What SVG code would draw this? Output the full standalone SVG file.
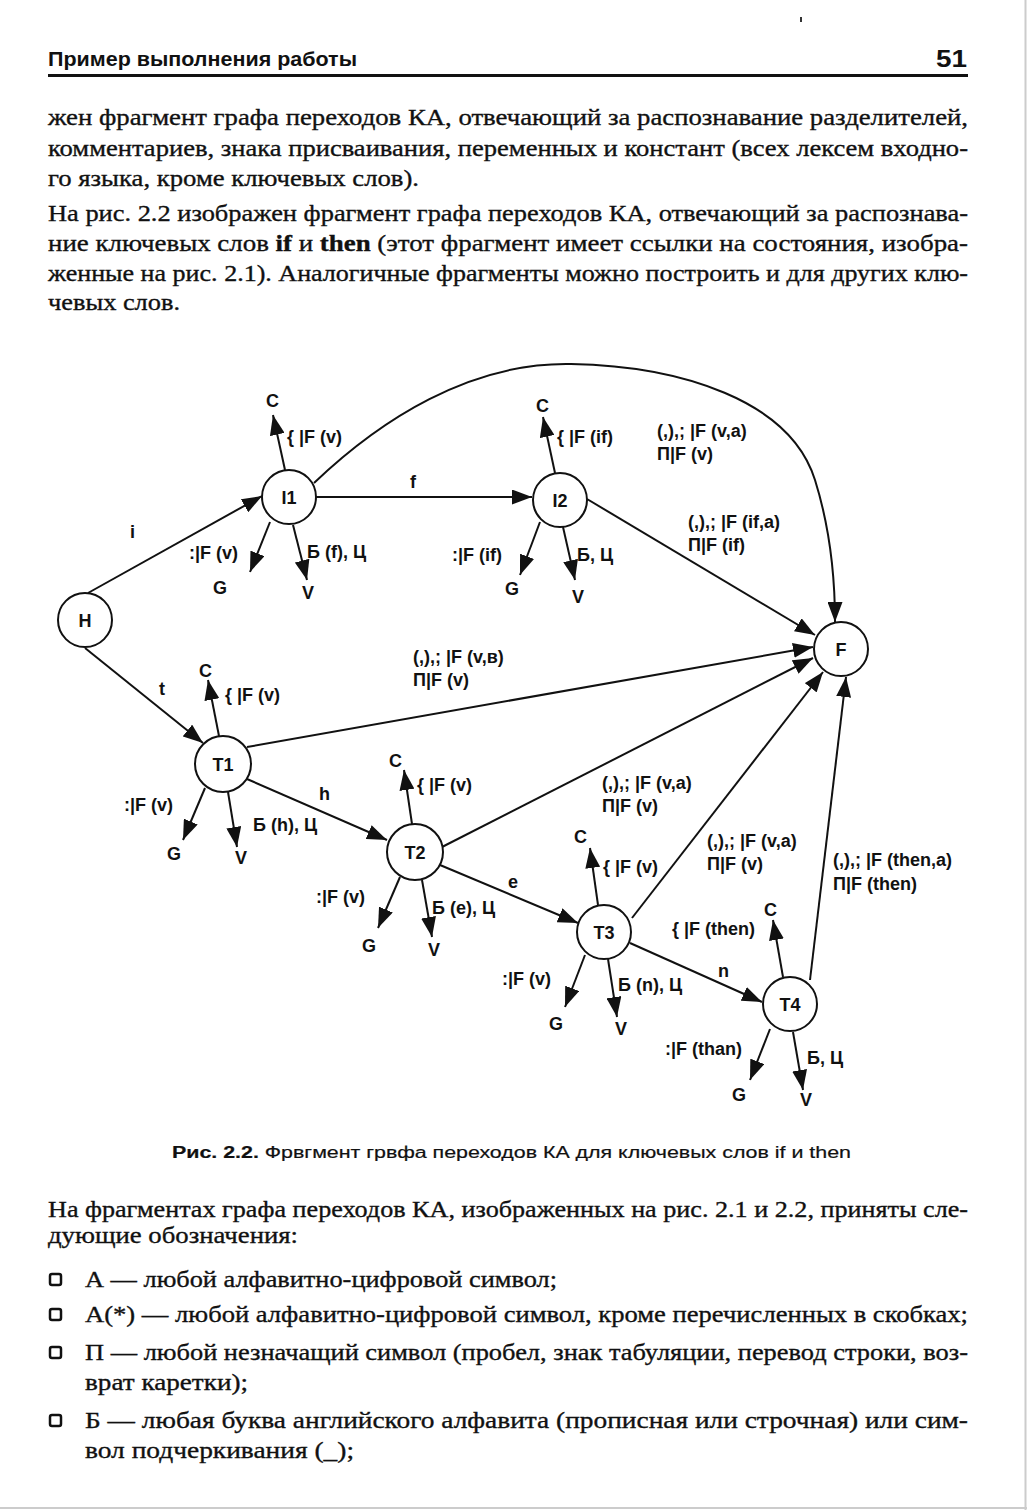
<svg xmlns="http://www.w3.org/2000/svg" width="1027" height="1510" viewBox="0 0 1027 1510">
<style>
.bg{fill:#fff}
.hd{font-family:"Liberation Sans",Arial,sans-serif;font-size:20px;font-weight:bold;fill:#111}
.pg{font-family:"Liberation Sans",Arial,sans-serif;font-size:24px;font-weight:bold;fill:#111}
.t{font-family:"Liberation Serif","Times New Roman",serif;font-size:24px;fill:#111;stroke:#111;stroke-width:0.35}
.b{font-weight:bold}
.cap{font-family:"Liberation Sans",Arial,sans-serif;font-size:16px;fill:#111;stroke:#111;stroke-width:0.2}
.l{font-family:"Liberation Sans",Arial,sans-serif;font-size:18px;font-weight:bold;fill:#111}
.nl{font-family:"Liberation Sans",Arial,sans-serif;font-size:18px;font-weight:bold;fill:#111;text-anchor:middle}
.nd{fill:#fff;stroke:#111;stroke-width:2}
.e{fill:none;stroke:#111;stroke-width:2;marker-end:url(#a)}
.bul{fill:none;stroke:#111;stroke-width:2.5}
</style>
<defs>
<marker id="a" markerWidth="20" markerHeight="15" refX="20" refY="7.5" orient="auto" markerUnits="userSpaceOnUse">
<path d="M0,0 L20,7.5 L0,15 z" fill="#111"/>
</marker>
</defs>
<rect class="bg" x="0" y="0" width="1027" height="1510"/>
<line x1="1025.5" y1="0" x2="1025.5" y2="1510" stroke="#ccc" stroke-width="2"/>
<line x1="0" y1="1508" x2="1027" y2="1508" stroke="#ccc" stroke-width="2"/>
<rect x="800" y="17" width="2" height="5" fill="#333"/>

<!-- header -->
<text class="hd" x="48" y="66" textLength="309" lengthAdjust="spacingAndGlyphs">Пример выполнения работы</text>
<text class="pg" x="936" y="67" textLength="31" lengthAdjust="spacingAndGlyphs">51</text>
<line x1="48" y1="75.5" x2="968" y2="75.5" stroke="#111" stroke-width="3"/>

<!-- body text top -->
<text class="t" x="48" y="125" textLength="920" lengthAdjust="spacingAndGlyphs">жен фрагмент графа переходов КА, отвечающий за распознавание разделителей,</text>
<text class="t" x="48" y="156" textLength="920" lengthAdjust="spacingAndGlyphs">комментариев, знака присваивания, переменных и констант (всех лексем входно-</text>
<text class="t" x="48" y="186" textLength="371" lengthAdjust="spacingAndGlyphs">го языка, кроме ключевых слов).</text>
<text class="t" x="48" y="221" textLength="920" lengthAdjust="spacingAndGlyphs">На рис. 2.2 изображен фрагмент графа переходов КА, отвечающий за распознава-</text>
<text class="t" x="48" y="251" textLength="920" lengthAdjust="spacingAndGlyphs">ние ключевых слов <tspan class="b">if</tspan> и <tspan class="b">then</tspan> (этот фрагмент имеет ссылки на состояния, изобра-</text>
<text class="t" x="48" y="281" textLength="920" lengthAdjust="spacingAndGlyphs">женные на рис. 2.1). Аналогичные фрагменты можно построить и для других клю-</text>
<text class="t" x="48" y="310" textLength="132" lengthAdjust="spacingAndGlyphs">чевых слов.</text>

<!-- connectors -->
<g id="connectors">
<path class="e" d="M88,593 L262,496"/>
<path class="e" d="M85,648 L203,743"/>
<path class="e" d="M316,497 L532,497"/>
<path class="e" d="M314,483 C380,420 470,362 571,364 C680,366 790,400 815,480 C830,528 835,580 835,622"/>
<path class="e" d="M587,499 L815,635"/>
<path class="e" d="M247,747 L813,647"/>
<path class="e" d="M442,847 L813,658"/>
<path class="e" d="M632,918 L823,672"/>
<path class="e" d="M810,980 L846,677"/>
<path class="e" d="M247,779 L387,840"/>
<path class="e" d="M440,865 L578,923"/>
<path class="e" d="M630,943 L762,1002"/>
<!-- stubs -->
<path class="e" d="M285,470 L273,415"/>
<path class="e" d="M270,522 L250,572"/>
<path class="e" d="M293,525 L307,580"/>
<path class="e" d="M555,473 L543,417"/>
<path class="e" d="M540,522 L520,575"/>
<path class="e" d="M563,527 L575,580"/>
<path class="e" d="M219,736 L208,680"/>
<path class="e" d="M205,788 L183,840"/>
<path class="e" d="M228,792 L237,847"/>
<path class="e" d="M412,824 L404,770"/>
<path class="e" d="M400,877 L378,928"/>
<path class="e" d="M422,880 L432,937"/>
<path class="e" d="M598,905 L590,848"/>
<path class="e" d="M585,955 L565,1007"/>
<path class="e" d="M608,959 L617,1017"/>
<path class="e" d="M783,977 L773,920"/>
<path class="e" d="M770,1029 L750,1080"/>
<path class="e" d="M793,1032 L803,1090"/>
</g>

<!-- edge labels -->
<g id="labels">
<text class="l" x="130" y="538">i</text>
<text class="l" x="410" y="488">f</text>
<text class="l" x="159" y="695">t</text>
<text class="l" x="319" y="800">h</text>
<text class="l" x="508" y="888">e</text>
<text class="l" x="718" y="977">n</text>

<text class="l" x="657" y="437">(,),; |F (v,a)</text>
<text class="l" x="657" y="460">П|F (v)</text>
<text class="l" x="688" y="528">(,),; |F (if,a)</text>
<text class="l" x="688" y="551">П|F (if)</text>
<text class="l" x="413" y="663">(,),; |F (v,в)</text>
<text class="l" x="413" y="686">П|F (v)</text>
<text class="l" x="602" y="789">(,),; |F (v,a)</text>
<text class="l" x="602" y="812">П|F (v)</text>
<text class="l" x="707" y="847">(,),; |F (v,a)</text>
<text class="l" x="707" y="870">П|F (v)</text>
<text class="l" x="833" y="866">(,),; |F (then,a)</text>
<text class="l" x="833" y="890">П|F (then)</text>

<!-- I1 stubs -->
<text class="l" x="266" y="407">C</text>
<text class="l" x="287" y="443">{ |F (v)</text>
<text class="l" x="189" y="559">:|F (v)</text>
<text class="l" x="213" y="594">G</text>
<text class="l" x="307" y="558">Б (f), Ц</text>
<text class="l" x="302" y="599">V</text>
<!-- I2 stubs -->
<text class="l" x="536" y="412">C</text>
<text class="l" x="557" y="443">{ |F (if)</text>
<text class="l" x="452" y="561">:|F (if)</text>
<text class="l" x="505" y="595">G</text>
<text class="l" x="577" y="561">Б, Ц</text>
<text class="l" x="572" y="603">V</text>
<!-- T1 stubs -->
<text class="l" x="199" y="677">C</text>
<text class="l" x="225" y="701">{ |F (v)</text>
<text class="l" x="124" y="811">:|F (v)</text>
<text class="l" x="167" y="860">G</text>
<text class="l" x="253" y="831">Б (h), Ц</text>
<text class="l" x="235" y="864">V</text>
<!-- T2 stubs -->
<text class="l" x="389" y="767">C</text>
<text class="l" x="417" y="791">{ |F (v)</text>
<text class="l" x="316" y="903">:|F (v)</text>
<text class="l" x="362" y="952">G</text>
<text class="l" x="432" y="914">Б (e), Ц</text>
<text class="l" x="428" y="956">V</text>
<!-- T3 stubs -->
<text class="l" x="574" y="843">C</text>
<text class="l" x="603" y="873">{ |F (v)</text>
<text class="l" x="502" y="985">:|F (v)</text>
<text class="l" x="549" y="1030">G</text>
<text class="l" x="618" y="991">Б (n), Ц</text>
<text class="l" x="615" y="1035">V</text>
<!-- T4 stubs -->
<text class="l" x="764" y="916">C</text>
<text class="l" x="672" y="935">{ |F (then)</text>
<text class="l" x="665" y="1055">:|F (than)</text>
<text class="l" x="732" y="1101">G</text>
<text class="l" x="807" y="1064">Б, Ц</text>
<text class="l" x="800" y="1106">V</text>
</g>

<!-- nodes -->
<g id="node-H"><circle class="nd" cx="85" cy="620" r="27"/><text class="nl" x="85" y="627">H</text></g>
<g id="node-I1"><circle class="nd" cx="289" cy="497" r="27"/><text class="nl" x="289" y="504">I1</text></g>
<g id="node-I2"><circle class="nd" cx="560" cy="500" r="27"/><text class="nl" x="560" y="507">I2</text></g>
<g id="node-F"><circle class="nd" cx="841" cy="649" r="27"/><text class="nl" x="841" y="656">F</text></g>
<g id="node-T1"><circle class="nd" cx="223" cy="764" r="28"/><text class="nl" x="223" y="771">T1</text></g>
<g id="node-T2"><circle class="nd" cx="415" cy="852" r="28"/><text class="nl" x="415" y="859">T2</text></g>
<g id="node-T3"><circle class="nd" cx="604" cy="932" r="27"/><text class="nl" x="604" y="939">T3</text></g>
<g id="node-T4"><circle class="nd" cx="790" cy="1004" r="27"/><text class="nl" x="790" y="1011">T4</text></g>

<!-- caption -->
<text class="cap" x="172" y="1158" textLength="679" lengthAdjust="spacingAndGlyphs"><tspan class="b">Рис. 2.2.</tspan> Фрвгмент грвфа переходов КА для ключевых слов if и then</text>

<!-- body text bottom -->
<text class="t" x="48" y="1217" textLength="920" lengthAdjust="spacingAndGlyphs">На фрагментах графа переходов КА, изображенных на рис. 2.1 и 2.2, приняты сле-</text>
<text class="t" x="48" y="1243" textLength="250" lengthAdjust="spacingAndGlyphs">дующие обозначения:</text>
<rect class="bul" x="50" y="1274" width="11" height="11" rx="2"/>
<text class="t" x="85" y="1287" textLength="472" lengthAdjust="spacingAndGlyphs">А — любой алфавитно-цифровой символ;</text>
<rect class="bul" x="50" y="1309" width="11" height="11" rx="2"/>
<text class="t" x="85" y="1322" textLength="883" lengthAdjust="spacingAndGlyphs">А(*) — любой алфавитно-цифровой символ, кроме перечисленных в скобках;</text>
<rect class="bul" x="50" y="1347" width="11" height="11" rx="2"/>
<text class="t" x="85" y="1360" textLength="883" lengthAdjust="spacingAndGlyphs">П — любой незначащий символ (пробел, знак табуляции, перевод строки, воз-</text>
<text class="t" x="85" y="1390" textLength="163" lengthAdjust="spacingAndGlyphs">врат каретки);</text>
<rect class="bul" x="50" y="1415" width="11" height="11" rx="2"/>
<text class="t" x="85" y="1428" textLength="883" lengthAdjust="spacingAndGlyphs">Б — любая буква английского алфавита (прописная или строчная) или сим-</text>
<text class="t" x="85" y="1458" textLength="269" lengthAdjust="spacingAndGlyphs">вол подчеркивания (_);</text>
</svg>
